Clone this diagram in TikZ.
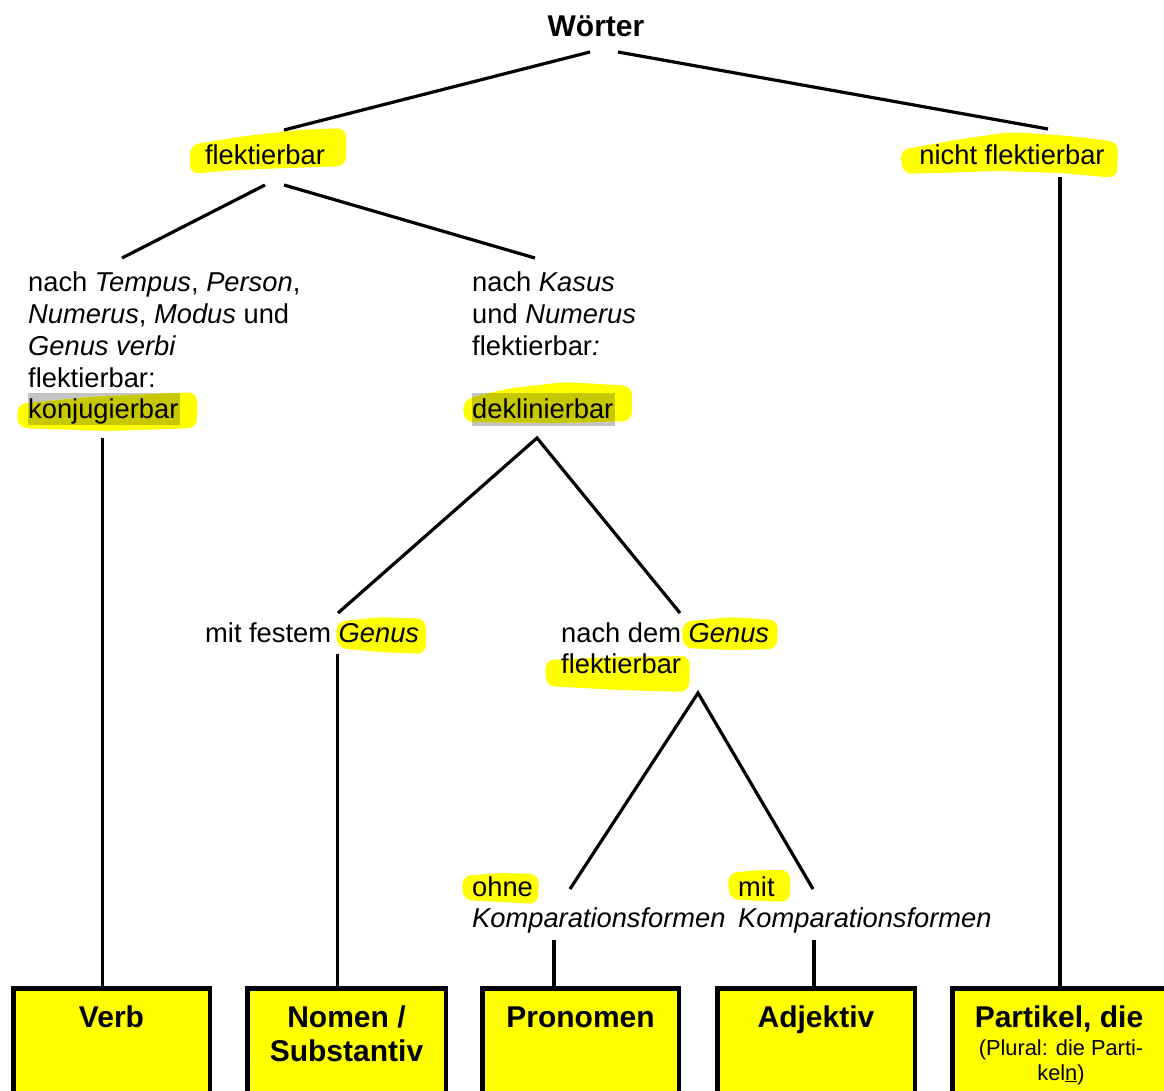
\documentclass[tikz,border=0pt]{standalone}
\usepackage{fontspec}
\setmainfont{Liberation Sans}
\definecolor{hl}{HTML}{FFFF00}
\definecolor{hlgrey}{HTML}{C4C4C4}
\definecolor{hlmix}{HTML}{C8C800}
\definecolor{boxfill}{HTML}{FFFF00}

% marker strokes (irregular highlighter shapes)
\def\blobKonj{(17,404) -- (90,397) -- (197,392) -- (197,428) -- (110,431) -- (18,428) -- cycle}
\def\blobDekl{(463,400) -- (505,389) -- (565,382) -- (632,386) -- (632,421) -- (560,423) -- (464,422) -- cycle}

\begin{document}
\begin{tikzpicture}[x=1pt,y=-1pt,
  txt/.style={inner sep=0pt, font=\fontsize{27.3}{32}\selectfont},
  bold/.style={inner sep=0pt, font=\fontsize{30}{34}\selectfont\bfseries},
  small/.style={inner sep=0pt, font=\fontsize{21.8}{25}\selectfont},
  link/.style={line width=3.2pt, line cap=butt},
  marker/.style={fill=hl, rounded corners=9pt},
  catbox/.style={draw, line width=4.5pt, fill=boxfill, anchor=north,
                 minimum height=200pt, inner sep=0pt, outer sep=0pt}
]
\useasboundingbox (0,0) rectangle (1164,1091);
\clip (0,0) rectangle (1164,1091);

% ---------- highlighter marks ----------
\fill[marker] (190,145) -- (245,136) -- (300,130) -- (346,128) -- (346,166) -- (290,168) -- (235,170) -- (190,174) -- cycle;
\fill[marker] (900,150) -- (955,140) -- (1010,132) -- (1070,136) -- (1118,142) -- (1117,178) -- (1060,173) -- (1000,171) -- (903,174) -- cycle;
\fill[marker] (336,622) -- (380,617) -- (426,619) -- (426,654) -- (380,652) -- (337,648) -- cycle;
\fill[marker] (682,622) -- (730,617) -- (778,620) -- (777,649) -- (730,650) -- (683,648) -- cycle;
\fill[marker] (545,660) -- (620,657) -- (690,656) -- (689,692) -- (620,690) -- (546,686) -- cycle;
\fill[marker] (462,876) -- (500,873) -- (539,874) -- (538,904) -- (500,902) -- (463,900) -- cycle;
\fill[marker] (728,873) -- (760,870) -- (790,870) -- (790,902) -- (760,901) -- (729,899) -- cycle;

% grey text background overlaid with the marker
\fill[hlgrey] (28,393) rectangle (180,425);
\fill[marker] \blobKonj;
\begin{scope}
  \clip[rounded corners=9pt] \blobKonj;
  \fill[hlmix] (28,393) rectangle (180,425);
\end{scope}
\fill[hlgrey] (472,393) rectangle (615,426);
\fill[marker] \blobDekl;
\begin{scope}
  \clip[rounded corners=9pt] \blobDekl;
  \fill[hlmix] (472,393) rectangle (615,426);
\end{scope}

% ---------- texts ----------
\node[bold, anchor=base] (woerter) at (596,37) {Wörter};
\node[txt, anchor=base] (flekt) at (265,165) {flektierbar};
\node[txt, anchor=base] (nflekt) at (1012,165) {nicht flektierbar};

\node[txt, anchor=base west] (konj1) at (28,291) {nach \textit{Tempus}, \textit{Person},};
\node[txt, anchor=base west] (konj2) at (28,323) {\textit{Numerus}, \textit{Modus} und};
\node[txt, anchor=base west] (konj3) at (28,355) {\textit{Genus verbi}};
\node[txt, anchor=base west] (konj4) at (28,387) {flektierbar:};
\node[txt, anchor=base west] (konj) at (28,418) {konjugierbar};

\node[txt, anchor=base west] (dekl1) at (472,291) {nach \textit{Kasus}};
\node[txt, anchor=base west] (dekl2) at (472,323) {und \textit{Numerus}};
\node[txt, anchor=base west] (dekl3) at (472,355) {flektierbar\textit{:}};
\node[txt, anchor=base west] (dekl) at (472,418) {deklinierbar};

\node[txt, anchor=base west] (fest) at (205,642) {mit festem \textit{Genus}};
\node[txt, anchor=base west] (nach1) at (561,642) {nach dem \textit{Genus}};
\node[txt, anchor=base west] (nach) at (561,673) {flektierbar};

\node[txt, anchor=base west] (ohne1) at (472,896) {ohne};
\node[txt, anchor=base west] (ohne) at (472,927) {\textit{Komparationsformen}};
\node[txt, anchor=base west] (mit1) at (738,896) {mit};
\node[txt, anchor=base west] (mit) at (738,927) {\textit{Komparationsformen}};

% ---------- category boxes ----------
\node[catbox, minimum width=196.5pt] (verb) at (111.5,988.25) {};
\node[catbox, minimum width=198.5pt] (nomen) at (346.5,988.25) {};
\node[catbox, minimum width=196.5pt] (pron) at (580.5,988.25) {};
\node[catbox, minimum width=197.5pt] (adj) at (816,988.25) {};
\node[catbox, minimum width=224pt] (part) at (1064.25,988.25) {};

\node[bold, anchor=base] (verbT) at (111.5,1027) {Verb};
\node[bold, anchor=base] (nomenT1) at (346.5,1027) {Nomen /};
\node[bold, anchor=base] (nomenT2) at (346.5,1061) {Substantiv};
\node[bold, anchor=base] (pronT) at (580.5,1027) {Pronomen};
\node[bold, anchor=base] (adjT) at (816,1027) {Adjektiv};
\node[bold, anchor=base] (partT) at (1059,1027) {Partikel, die};
\node[small, anchor=base] (partT2) at (1061,1055) {(Plural: die Parti-};
\node[small, anchor=base] (partT3) at (1061,1080) {kel\underline{n})};

% ---------- connector end points ----------
\coordinate (w-l) at (590,52);
\coordinate (w-r) at (618,52);
\coordinate (f-top) at (284,130);
\coordinate (nf-top) at (1048,129);
\coordinate (f-bl) at (265,185);
\coordinate (f-br) at (284,185);
\coordinate (k-top) at (122,258);
\coordinate (d-top) at (535,258);
\coordinate (d-apex) at (537,438);
\coordinate (fest-top) at (338,613);
\coordinate (nach-top) at (680,613);
\coordinate (n-apex) at (698,693);
\coordinate (ohne-top) at (570,889);
\coordinate (mit-top) at (813,889);
\coordinate (konj-bot) at (102.5,438);
\coordinate (fest-bot) at (337.5,654);
\coordinate (ohne-bot) at (554,940);
\coordinate (mit-bot) at (814,940);
\coordinate (nf-bot) at (1060,177);

% ---------- connectors ----------
\draw[link] (w-l) -- (f-top);
\draw[link] (w-r) -- (nf-top);
\draw[link] (f-bl) -- (k-top);
\draw[link] (f-br) -- (d-top);
\draw[link, line join=miter] (fest-top) -- (d-apex) -- (nach-top);
\draw[link, line join=miter] (ohne-top) -- (n-apex) -- (mit-top);
\draw[link] (konj-bot) -- (konj-bot |- verb.north);
\draw[link] (fest-bot) -- (fest-bot |- nomen.north);
\draw[link] (ohne-bot) -- (ohne-bot |- pron.north);
\draw[link] (mit-bot) -- (mit-bot |- adj.north);
\draw[link] (nf-bot) -- (nf-bot |- part.north);
\end{tikzpicture}
\end{document}
